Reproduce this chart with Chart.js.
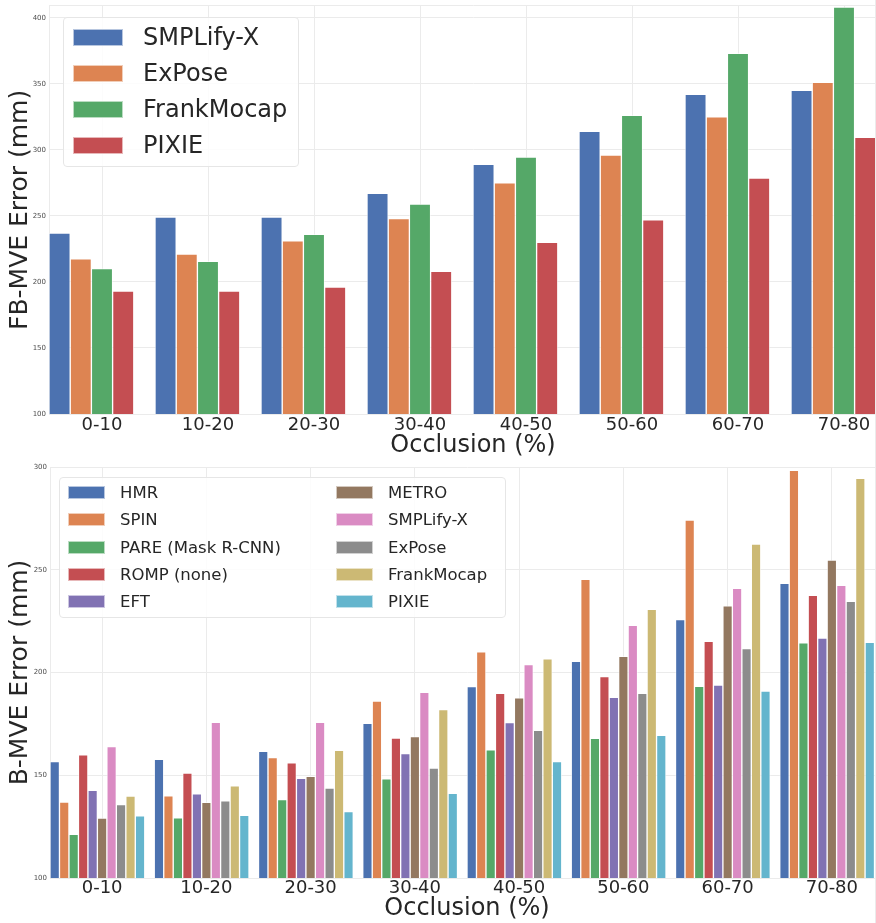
<!DOCTYPE html>
<html>
<head>
<meta charset="utf-8">
<script src="https://cdn.jsdelivr.net/npm/chart.js@4.4.0/dist/chart.umd.min.js"></script>
<style>
  html, body { margin: 0; padding: 0; background: #fff; }
  body { width: 876px; height: 923px; overflow: hidden; position: relative; font-family: "DejaVu Sans", sans-serif; color: #262626; }
  .clip { position: absolute; left: 0; width: 875px; overflow: hidden; border-right: 1px solid #ebebeb; }
  #topWrap { top: 0; height: 460px; }
  #bottomWrap { top: 460px; height: 463px; }
  .legend { position: absolute; background: rgba(255,255,255,0.85); border: 1px solid #e6e6e6; border-radius: 4px; box-sizing: border-box; }
  .legend .row { display: flex; align-items: center; white-space: nowrap; }
  .legend .patch { box-sizing: border-box; border: 1px solid rgba(255,255,255,0.6); }
  #topLegend { left: 63px; top: 17px; width: 236px; height: 150px; padding: 1px 0 0 9px; }
  #topLegend .row { height: 36px; font-size: 24px; }
  #topLegend .patch { width: 50px; height: 17px; margin-right: 20px; }
  #bottomLegend { left: 59px; top: 477px; width: 447px; height: 141px; padding: 1px 0 0 8px;
    display: grid; grid-template-columns: 268px auto; grid-template-rows: repeat(5, 27.25px); grid-auto-flow: column; }
  #bottomLegend .row { font-size: 16.5px; }
  #bottomLegend .patch { width: 37px; height: 13px; margin-right: 15px; }
</style>
</head>
<body>
<div class="clip" id="topWrap"><canvas id="topChart" width="897" height="460"></canvas></div>
<div class="clip" id="bottomWrap"><canvas id="bottomChart" width="884" height="463"></canvas></div>
<div class="legend" id="topLegend"></div>
<div class="legend" id="bottomLegend"></div>
<script>
// ---- data ----
const occlusionBins = ["0-10", "10-20", "20-30", "30-40", "40-50", "50-60", "60-70", "70-80"];

// top panel: FB-MVE error (mm)
const fbSeries = ["SMPLify-X", "ExPose", "FrankMocap", "PIXIE"];
const fbSmplifyX  = [237, 249, 249, 267, 289, 314, 342, 345];
const fbExPose    = [217.5, 221, 231, 248, 275, 296, 325, 351];
const fbFrankMocap = [210, 215.5, 236, 259, 294.5, 326, 373, 408];
const fbPixie     = [193, 193, 196, 208, 230, 247, 278.5, 309.5];
const fbTicks = [100, 150, 200, 250, 300, 350, 400];

// bottom panel: B-MVE error (mm)
const bSeries = ["HMR", "SPIN", "PARE (Mask R-CNN)", "ROMP (none)", "EFT",
                 "METRO", "SMPLify-X", "ExPose", "FrankMocap", "PIXIE"];
const bHmr        = [156.6, 157.7, 161.6, 175.3, 193.1, 205.4, 225.7, 243.4];
const bSpin       = [137, 140, 158.6, 186.1, 210, 245.3, 274.2, 298.4];
const bPare       = [121.3, 129.3, 138.1, 148.2, 162.4, 168, 193.3, 214.4];
const bRomp       = [159.9, 151.1, 156, 168.1, 189.9, 198, 215.2, 237.6];
const bEft        = [142.7, 141, 148.5, 160.5, 175.6, 187.9, 193.9, 216.8];
const bMetro      = [129.2, 136.8, 149.5, 168.8, 187.7, 207.9, 232.4, 254.7];
const bSmplifyX   = [164, 175.8, 175.8, 190.4, 203.8, 223, 241, 242.4];
const bExPose     = [135.7, 137.6, 143.8, 153.5, 171.9, 189.9, 211.6, 234.6];
const bFrankMocap = [139.9, 144.9, 162.1, 181.9, 206.7, 230.7, 262.5, 294.5];
const bPixie      = [130.3, 130.5, 132.3, 141.2, 156.6, 169.4, 190.9, 214.7];
const bTicks = [100, 150, 200, 250, 300];

// seaborn "deep" palette
const deep = ["#4C72B0", "#DD8452", "#55A868", "#C44E52", "#8172B3",
              "#937860", "#DA8BC3", "#8C8C8C", "#CCB974", "#64B5CD"];
const fbColors = [deep[0], deep[1], deep[2], deep[3]];

Chart.defaults.font.family = "'DejaVu Sans', sans-serif";
Chart.defaults.color = "#262626";
Chart.defaults.animation = false;

const GRID = "#ebebeb";

function makeDatasets(names, values, colors) {
    const sets = names.map((name, i) => ({
        label: name,
        data: values[i],
        backgroundColor: colors[i],
        borderColor: "rgba(255,255,255,0.55)",
        borderWidth: 1
    }));
    // empty slot: the original groups leave one bar width free on the right
    sets.push({ label: "", data: [], backgroundColor: "transparent" });
    return sets;
}

function buildChart(canvasId, opts) {
    return new Chart(document.getElementById(canvasId), {
        type: "bar",
        data: { labels: occlusionBins, datasets: opts.datasets },
        options: {
            responsive: false,
            layout: { padding: { top: opts.padTop, left: 0, right: 0, bottom: 0 } },
            datasets: { bar: { categoryPercentage: 1.0, barPercentage: 1.0 } },
            plugins: { legend: { display: false }, tooltip: { enabled: false } },
            scales: {
                x: {
                    grid: { color: GRID, offset: false, drawTicks: false },
                    border: { color: GRID },
                    ticks: { font: { size: 18 }, color: "#262626", padding: opts.xPad, maxRotation: 0, autoSkip: false },
                    title: { display: true, text: "Occlusion (%)", font: { size: 24 }, color: "#262626", padding: 0 },
                    afterFit: s => { s.height = opts.xHeight; }
                },
                y: {
                    min: opts.yMin,
                    max: opts.yMax,
                    afterBuildTicks: s => {
                        const t = opts.ticks.map(v => ({ value: v }));
                        if (opts.yMax !== opts.ticks[opts.ticks.length - 1]) t.push({ value: opts.yMax });
                        s.ticks = t;
                    },
                    grid: { color: GRID, drawTicks: false },
                    border: { color: GRID },
                    ticks: {
                        font: { size: 7, lineHeight: 0.8 }, color: "#4d4d4d", padding: 3,
                        callback: v => opts.ticks.includes(v) ? v : ""
                    },
                    title: { display: true, text: opts.yTitle, font: { size: 25 }, color: "#262626", padding: { top: 5, bottom: 0 } },
                    afterFit: s => { s.width = opts.yWidth; }
                }
            }
        }
    });
}

buildChart("topChart", {
    datasets: makeDatasets(fbSeries, [fbSmplifyX, fbExPose, fbFrankMocap, fbPixie], fbColors),
    yMin: 100, yMax: 409, ticks: fbTicks, yTitle: "FB-MVE Error (mm)",
    padTop: 1, xHeight: 46, yWidth: 49, xPad: 1
});

buildChart("bottomChart", {
    datasets: makeDatasets(bSeries,
        [bHmr, bSpin, bPare, bRomp, bEft, bMetro, bSmplifyX, bExPose, bFrankMocap, bPixie], deep),
    yMin: 100, yMax: 300, ticks: bTicks, yTitle: "B-MVE Error (mm)",
    padTop: 7, xHeight: 45, yWidth: 50, xPad: 0
});

// legends drawn as HTML inside the axes, like the matplotlib ones
function fillLegend(id, names, colors) {
    const box = document.getElementById(id);
    names.forEach((name, i) => {
        const row = document.createElement("div");
        row.className = "row";
        const patch = document.createElement("span");
        patch.className = "patch";
        patch.style.background = colors[i];
        const label = document.createElement("span");
        label.textContent = name;
        row.appendChild(patch);
        row.appendChild(label);
        box.appendChild(row);
    });
}
fillLegend("topLegend", fbSeries, fbColors);
fillLegend("bottomLegend", bSeries, deep);
</script>
</body>
</html>
